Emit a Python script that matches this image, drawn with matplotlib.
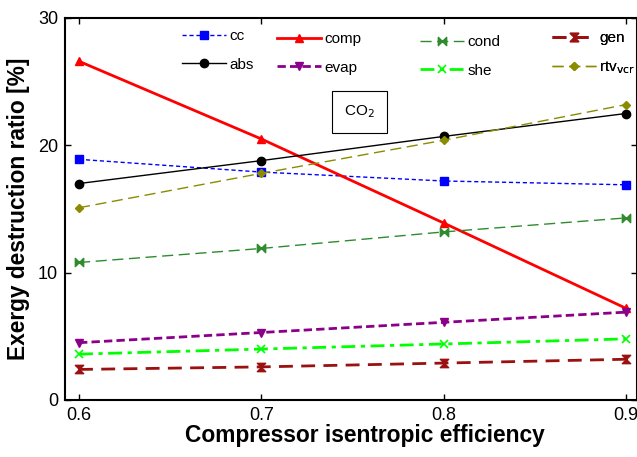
import matplotlib
matplotlib.use("Agg")
import matplotlib.pyplot as plt
from matplotlib.path import Path
import numpy as np

plt.rcParams['font.family'] = ['Liberation Sans', 'DejaVu Sans']

efficiency = [0.6, 0.7, 0.8, 0.9]
cc = [18.9, 17.9, 17.2, 16.9]
comp = [26.6, 20.5, 13.9, 7.2]
cond = [10.8, 11.9, 13.2, 14.3]
gen = [2.4, 2.6, 2.9, 3.2]
absorber = [17.0, 18.8, 20.7, 22.5]
evap = [4.5, 5.3, 6.1, 6.9]
she = [3.6, 4.0, 4.4, 4.8]
rtv = [15.1, 17.8, 20.4, 23.2]

xticks = [0.6, 0.7, 0.8, 0.9]
yticks = [0, 10, 20, 30]

bowtie_h = Path([(-1, -1), (-1, 1), (0, 0), (-1, -1), (1, -1), (1, 1), (0, 0), (1, -1)],
                [Path.MOVETO, Path.LINETO, Path.LINETO, Path.CLOSEPOLY,
                 Path.MOVETO, Path.LINETO, Path.LINETO, Path.CLOSEPOLY])
bowtie_v = Path([(-1, -1), (1, -1), (0, 0), (-1, -1), (-1, 1), (1, 1), (0, 0), (-1, 1)],
                [Path.MOVETO, Path.LINETO, Path.LINETO, Path.CLOSEPOLY,
                 Path.MOVETO, Path.LINETO, Path.LINETO, Path.CLOSEPOLY])

fig = plt.figure(figsize=(6.37, 4.57), dpi=100)
ax = fig.add_axes([65/637, 1 - 400/457, 1 - 65/637, (400 - 18)/457])

h_cc, = ax.plot(efficiency, cc, color='#0000ff', ls=(0, (3, 2)), lw=1.0, marker='s', ms=6, label='cc')
h_comp, = ax.plot(efficiency, comp, color='#ff0000', ls='-', lw=2.0, marker='^', ms=6, label='comp')
h_cond, = ax.plot(efficiency, cond, color='#2e8b2e', ls=(0, (8, 4)), lw=1.0, marker=bowtie_h, ms=6, label='cond')
h_gen, = ax.plot(efficiency, gen, color='#9b1010', ls=(0, (5, 3)), lw=2.0, marker=bowtie_v, ms=6, label='gen')
h_abs, = ax.plot(efficiency, absorber, color='black', ls='-', lw=1.0, marker='o', ms=6, label='abs')
h_evap, = ax.plot(efficiency, evap, color='#8b008b', ls=(0, (3, 1.5)), lw=2.0, marker='v', ms=6, label='evap')
h_she, = ax.plot(efficiency, she, color='#00ff00', ls=(0, (5, 2, 1.5, 2)), lw=2.0, marker='x', ms=6, mew=1.2, label='she')
h_rtv, = ax.plot(efficiency, rtv, color='#8b8b00', ls=(0, (8, 4)), lw=1.0, marker='D', ms=4.5, label='rtv$_{\\mathrm{vcr}}$')

ax.set_xlim(0.6 - 14/1820, 0.9 + 11/1820)
ax.set_ylim(0, 30)
ax.set_xticks(xticks)
ax.set_xticklabels([f'{v:.1f}' for v in xticks])
ax.set_yticks(yticks)
ax.tick_params(direction='in', top=True, right=True, length=4, labelsize=13, width=1, pad=5)
for s in ax.spines.values():
    s.set_linewidth(1.5)

ax.set_xlabel('Compressor isentropic efficiency', fontsize=16.4, fontweight='bold')
ax.xaxis.set_label_coords((364.5 - 65) / 572, -24 / 382, transform=ax.transAxes)
ax.xaxis.label.set_va('top')
ax.set_ylabel('Exergy destruction ratio [%]', fontsize=16.4, fontweight='bold', labelpad=6)

# (handles, left pixel, top-row centre pixel)
groups = [((h_cc, h_abs), 182, 37), ((h_comp, h_evap), 277, 40),
          ((h_cond, h_she), 420, 43), ((h_gen, h_rtv), 552, 39)]
for handles, xpix, ypix in groups:
    leg = ax.legend(handles=list(handles), loc='upper left',
                    bbox_to_anchor=(xpix/637, 1 - (ypix - 8)/457), bbox_transform=fig.transFigure,
                    frameon=False, fontsize=11, handlelength=2.9, handletextpad=0.2,
                    labelspacing=0.95, borderpad=0, borderaxespad=0)
    ax.add_artist(leg)

ax.text(359.5/637, 1 - 112/457, 'CO$_2$', transform=fig.transFigure, fontsize=11,
        ha='center', va='center',
        bbox=dict(boxstyle='square,pad=0.8', fc='white', ec='black', lw=0.8))

fig.savefig('out.png', dpi=100)
